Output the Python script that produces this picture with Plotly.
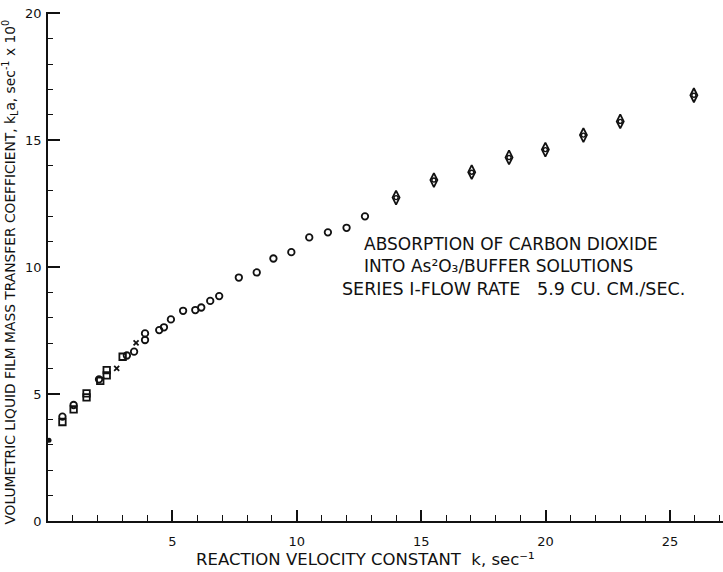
import plotly.graph_objects as go

# ---- data ----
squares_x = [0.58, 1.03, 1.55, 1.55, 2.10, 2.36, 2.36, 3.00]
squares_y = [3.90, 4.40, 4.87, 5.03, 5.52, 5.74, 5.94, 6.47]

circles_x = [0.58, 1.03, 2.05, 3.17, 3.46, 3.90, 3.90, 4.47, 4.66, 4.94, 5.43, 5.92,
             6.16, 6.52, 6.88, 7.67, 8.39, 9.06, 9.78, 10.50, 11.25, 12.00, 12.74]
circles_y = [4.11, 4.57, 5.58, 6.52, 6.67, 7.13, 7.39, 7.52, 7.63, 7.94, 8.28, 8.31,
             8.41, 8.67, 8.86, 9.59, 9.79, 10.34, 10.59, 11.17, 11.37, 11.55, 12.00]

crosses_x = [2.76, 3.54]
crosses_y = [6.01, 7.02]

dot_x = [0.04]
dot_y = [3.18]

diamonds_x = [13.99, 15.51, 17.03, 18.53, 19.99, 21.52, 23.00, 25.96]
diamonds_y = [12.74, 13.43, 13.74, 14.32, 14.63, 15.20, 15.74, 16.77]

x_major = [5, 10, 15, 20, 25]
x_minor = [v for v in range(1, 28) if v % 5]
y_major = [0, 5, 10, 15, 20]
y_minor = [v for v in range(1, 20) if v % 5]

INK = "#111111"
FONT = "DejaVu Sans"

fig = go.Figure()
fig.add_trace(go.Scatter(x=squares_x, y=squares_y, mode="markers",
                         marker=dict(symbol="square-open", size=6.5, color=INK,
                                     line=dict(width=1.8, color=INK))))
fig.add_trace(go.Scatter(x=circles_x, y=circles_y, mode="markers",
                         marker=dict(symbol="circle-open", size=6.5, color=INK,
                                     line=dict(width=1.8, color=INK))))
fig.add_trace(go.Scatter(x=crosses_x, y=crosses_y, mode="markers",
                         marker=dict(symbol="x-thin-open", size=5, color=INK,
                                     line=dict(width=1.8, color=INK))))
fig.add_trace(go.Scatter(x=dot_x, y=dot_y, mode="markers",
                         marker=dict(symbol="circle", size=5, color=INK)))
fig.add_trace(go.Scatter(x=diamonds_x, y=diamonds_y, mode="markers",
                         marker=dict(symbol="diamond-tall-open", size=10, color=INK,
                                     line=dict(width=1.8, color=INK))))
fig.add_trace(go.Scatter(x=diamonds_x, y=diamonds_y, mode="markers",
                         marker=dict(symbol="circle-open", size=4, color=INK,
                                     line=dict(width=1.4, color=INK))))

fig.update_layout(
    width=723, height=572,
    margin=dict(l=48, r=0, t=12, b=51),
    paper_bgcolor="white", plot_bgcolor="white",
    showlegend=False,
    font=dict(family=FONT, color=INK, size=13),
    xaxis=dict(range=[0, 27.13], showgrid=False, zeroline=False,
               showline=True, linecolor=INK, linewidth=1.7,
               tickmode="array", tickvals=x_major, ticktext=[str(v) for v in x_major],
               ticks="inside", ticklen=11, tickwidth=1.5, tickcolor=INK,
               ticklabelstandoff=8,
               minor=dict(tickmode="array", tickvals=x_minor, ticks="inside",
                          ticklen=6, tickwidth=1.3, tickcolor=INK, showgrid=False),
               tickfont=dict(family=FONT, size=13, color=INK)),
    yaxis=dict(range=[0, 20.05], showgrid=False, zeroline=False,
               showline=True, linecolor=INK, linewidth=1.7,
               tickmode="array", tickvals=y_major, ticktext=[str(v) for v in y_major],
               ticks="inside", ticklen=12, tickwidth=1.5, tickcolor=INK,
               ticklabelstandoff=2,
               minor=dict(tickmode="array", tickvals=y_minor, ticks="inside",
                          ticklen=5, tickwidth=1.3, tickcolor=INK, showgrid=False),
               tickfont=dict(family=FONT, size=13, color=INK)),
)

fig.add_annotation(text="VOLUMETRIC LIQUID FILM MASS TRANSFER COEFFICIENT, k<sub>L</sub>a, sec<sup>-1</sup> x 10<sup>0</sup>",
                   xref="paper", yref="paper", x=-0.0563, y=0.49,
                   textangle=-90, showarrow=False, xanchor="center", yanchor="middle",
                   font=dict(family=FONT, size=13.8, color=INK))
fig.add_annotation(text="REACTION VELOCITY CONSTANT  k, sec⁻¹",
                   xref="paper", yref="paper", x=0.47, y=-0.0985,
                   showarrow=False, xanchor="center", yanchor="bottom",
                   font=dict(family=FONT, size=16.5, color=INK))
fig.add_annotation(text="ABSORPTION OF CARBON DIOXIDE<br>INTO As²O₃/BUFFER SOLUTIONS",
                   xref="paper", yref="paper", x=0.465, y=0.5226,
                   showarrow=False, xanchor="left", yanchor="middle", align="left",
                   font=dict(family=FONT, size=17, color=INK))
fig.add_annotation(text="SERIES I-FLOW RATE   5.9 CU. CM./SEC.",
                   xref="paper", yref="paper", x=0.4326, y=0.4558,
                   showarrow=False, xanchor="left", yanchor="middle",
                   font=dict(family=FONT, size=17.5, color=INK))

fig.write_html("out.html")
